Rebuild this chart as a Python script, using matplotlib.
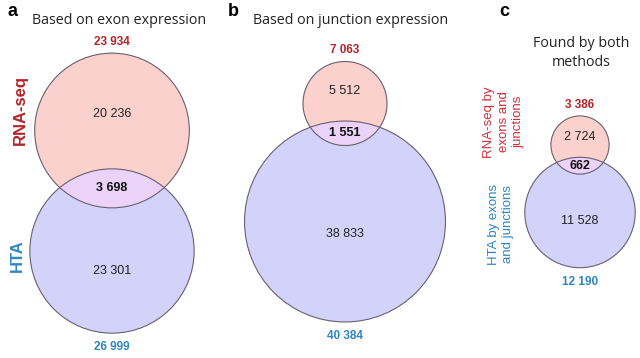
import numpy as np
import matplotlib
matplotlib.use("Agg")
import matplotlib.pyplot as plt
from matplotlib.patches import Circle

plt.rcParams['font.family'] = ['Open Sans', 'DejaVu Sans']

# ---- data ----
panel_letters = ["a", "b", "c"]
panel_titles = ["Based on exon expression", "Based on junction expression", "Found by both\nmethods"]
top_totals = [23934, 7063, 3386]
bottom_totals = [26999, 40384, 12190]
top_only = [20236, 5512, 2724]
overlap = [3698, 1551, 662]
bottom_only = [23301, 38833, 11528]
top_labels = ["RNA-seq", "", "RNA-seq by\nexons and\njunctions"]
bottom_labels = ["HTA", "", "HTA by exons\nand junctions"]

def fmt(v):
    return f"{v:,}".replace(",", " ")

# ---- layout ----
W, H = 640, 358
fig = plt.figure(figsize=(W / 100, H / 100), dpi=100)
ax = fig.add_axes([0, 0, 1, 1])
ax.set_xlim(0, W)
ax.set_ylim(H, 0)
ax.set_aspect('equal')
ax.axis('off')

scale = 0.5  # px per sqrt(count)
cx = [112, 345, 580]
top_cy = [130.5, 103.5, 145]
center_gap = [120.5, 118, 67.5]
letter_x = [8, 228, 499]
title_y = [20, 20, 53]
title_dx = [7, 6, 1]

pink = '#fad1cd'
blue = '#d3d3fa'
lav = '#ebd2f8'
edge = '#6a5f70'
red = '#b5242a'
tblue = '#2f86c0'
num_font = ['Liberation Sans', 'DejaVu Sans']

for i in range(3):
    r1 = scale * np.sqrt(top_totals[i])
    r2 = scale * np.sqrt(bottom_totals[i])
    y1 = top_cy[i]
    y2 = y1 + center_gap[i]
    ax.add_patch(Circle((cx[i], y1), r1, facecolor=pink, edgecolor='none', zorder=1))
    ax.add_patch(Circle((cx[i], y2), r2, facecolor=blue, edgecolor='none', zorder=1))
    lens = Circle((cx[i], y1), r1, facecolor=lav, edgecolor='none', zorder=2)
    ax.add_patch(lens)
    lens.set_clip_path(Circle((cx[i], y2), r2, transform=ax.transData))
    for (yy, rr) in [(y1, r1), (y2, r2)]:
        ax.add_patch(Circle((cx[i], yy), rr, facecolor='none', edgecolor=edge, lw=0.8, zorder=3))

    # letters & titles
    ax.text(letter_x[i], 11, panel_letters[i], fontsize=13, fontweight='bold',
            ha='left', va='center', family=num_font)
    ax.text(cx[i] + title_dx[i], title_y[i], panel_titles[i], fontsize=10.3,
            ha='center', va='center', linespacing=1.4, color='#222222')

    # totals
    ax.text(cx[i], y1 - r1 - 11, fmt(top_totals[i]), color=red, fontweight='bold',
            fontsize=8.5, ha='center', va='center', family=num_font)
    ax.text(cx[i], y2 + r2 + 14, fmt(bottom_totals[i]), color=tblue, fontweight='bold',
            fontsize=8.5, ha='center', va='center', family=num_font)

    # region values
    ov_top = y2 - r2
    ov_bot = y1 + r1
    ax.text(cx[i], (y1 - r1 + ov_top) / 2 + (3 if i == 0 else 0), fmt(top_only[i]), fontsize=9,
            ha='center', va='center', color='#222222', family=num_font)
    ax.text(cx[i], (ov_top + ov_bot) / 2, fmt(overlap[i]), fontsize=9, fontweight='bold',
            ha='center', va='center', color='#111111', family=num_font)
    ax.text(cx[i], (ov_bot + y2 + r2) / 2, fmt(bottom_only[i]), fontsize=9,
            ha='center', va='center', color='#222222', family=num_font)

# side labels
ax.text(20, 110, top_labels[0], rotation=90, color=red, fontweight='bold', fontsize=12,
        ha='center', va='center', family=num_font)
ax.text(17, 256, bottom_labels[0], rotation=90, color=tblue, fontweight='bold', fontsize=12,
        ha='center', va='center', family=num_font)
ax.text(504, 122, top_labels[2], rotation=90, color='#d0313a', fontsize=9.5,
        ha='center', va='center', linespacing=1.3, family=num_font)
ax.text(501, 224, bottom_labels[2], rotation=90, color=tblue, fontsize=9.5,
        ha='center', va='center', linespacing=1.3, family=num_font)

fig.savefig("out.png", dpi=100, facecolor='white')
